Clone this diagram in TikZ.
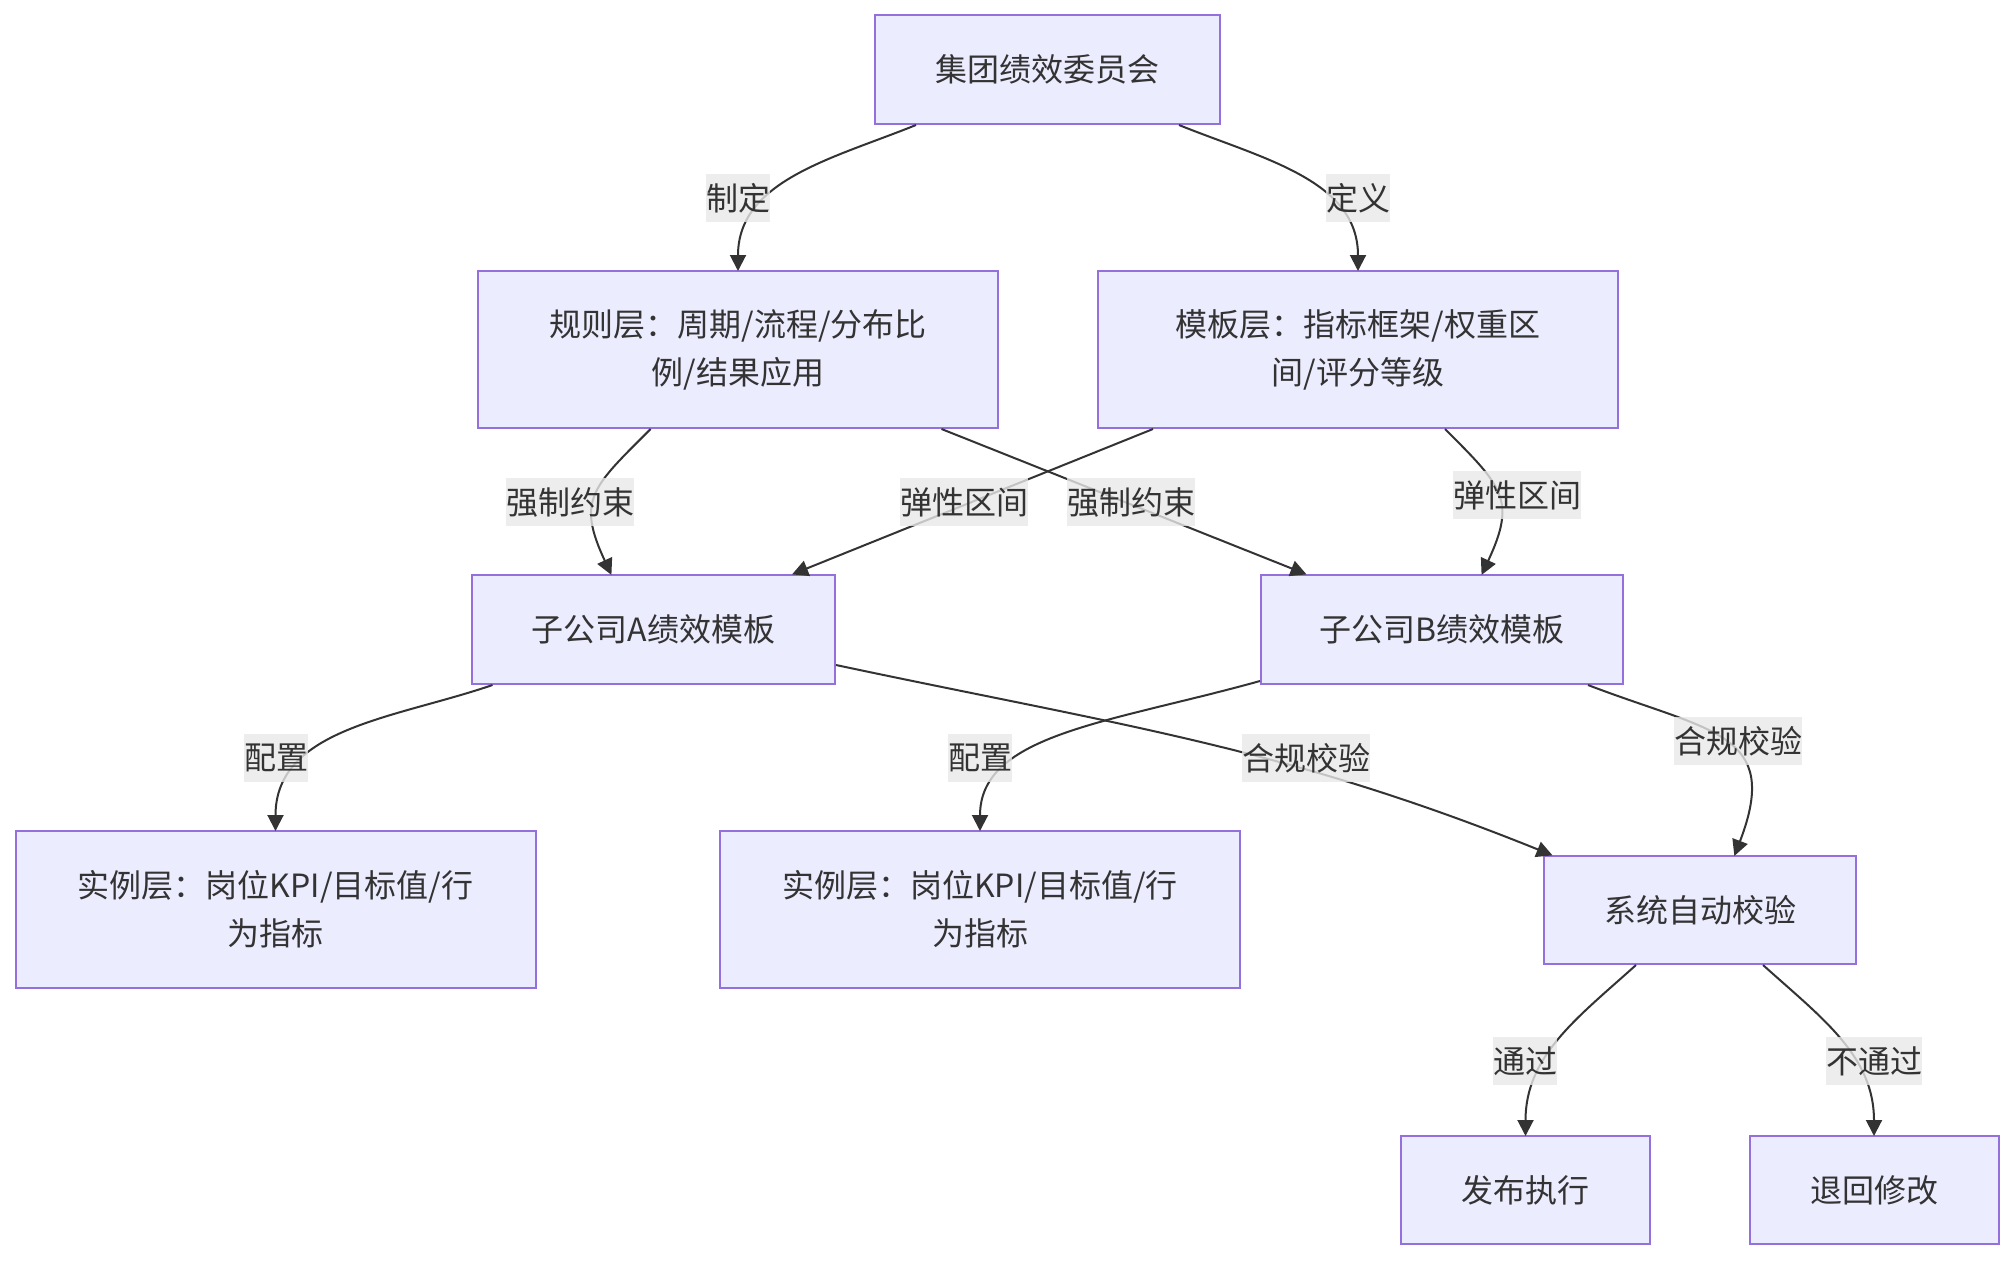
\documentclass[tikz,border=0pt]{standalone}
\usepackage{fontspec}
\setmainfont{Noto Sans CJK SC}
\usetikzlibrary{arrows.meta}
\definecolor{nodefill}{HTML}{ECECFF}
\definecolor{nodeline}{HTML}{9370DB}
\definecolor{txt}{HTML}{333333}
\definecolor{lblbg}{HTML}{E8E8E8}
\begin{document}
\begin{tikzpicture}[x=0.5pt,y=0.5pt,
 box/.style={draw=nodeline, fill=nodefill, line width=1pt, text=txt, align=center,
   font=\fontsize{16pt}{24pt}\selectfont, inner sep=0pt},
 wide/.style={box, minimum width=260pt, minimum height=78.5pt},
 edge/.style={draw=txt, line width=1pt, -{Triangle[length=8pt,width=8pt]}, shorten >=-0.5pt},
 lbl/.style={fill=lblbg, fill opacity=0.8, text opacity=1, text=txt, inner xsep=0pt,
   inner ysep=0pt, minimum height=24pt, font=\fontsize{16pt}{24pt}\selectfont}]
\useasboundingbox (0,0) rectangle (2014,-1260);

\node[box, minimum width=172.5pt, minimum height=54.5pt] (n1) at (1047.5,-69.5) {集团绩效委员会};
\node[wide] (n2) at (738,-349.5) {规则层：周期/流程/分布比\\例/结果应用};
\node[wide] (n3) at (1358,-349.5) {模板层：指标框架/权重区\\间/评分等级};
\node[box, minimum width=181.5pt, minimum height=54.5pt] (n4) at (653.5,-629.5) {子公司A绩效模板};
\node[box, minimum width=181pt, minimum height=54.5pt] (n5) at (1442,-629.5) {子公司B绩效模板};
\node[wide] (n6) at (275.5,-909.5) {实例层：岗位KPI/目标值/行\\为指标};
\node[wide] (n7) at (980,-909.5) {实例层：岗位KPI/目标值/行\\为指标};
\node[box, minimum width=156pt, minimum height=54pt] (n8) at (1700,-910) {系统自动校验};
\node[box, minimum width=124.5pt, minimum height=54pt] (n9) at (1525.5,-1190) {发布执行};
\node[box, minimum width=124.5pt, minimum height=54pt] (n10) at (1874,-1190) {退回修改};

\draw[edge] ([xshift=-65.75pt]n1.south) to[out=-158,in=90] (n2.north);
\draw[edge] ([xshift=65.75pt]n1.south) to[out=-22,in=90] (n3.north);
\draw[edge] ([xshift=-43.7pt]n2.south) to[out=-135,in=115,looseness=1.4] ([xshift=-21.25pt]n4.north);
\draw[edge] ([xshift=101.75pt]n2.south) -- ([xshift=-68.2pt]n5.north);
\draw[edge] ([xshift=-102.5pt]n3.south) -- ([xshift=69.75pt]n4.north);
\draw[edge] ([xshift=43.5pt]n3.south) to[out=-45,in=65,looseness=1.4] ([xshift=20pt]n5.north);
\draw[edge] ([xshift=-80.5pt]n4.south) to[out=-161,in=90] (n6.north);
\draw[edge] ([yshift=-17.75pt]n4.east) to[out=-12,in=158] ([xshift=-74.2pt]n8.north);
\draw[edge] ([yshift=2pt]n5.south west) .. controls +(-75.5pt,-21pt) and +(0pt,48pt) .. (n7.north);
\draw[edge] ([xshift=73pt]n5.south) to[out=-21,in=69,looseness=1.5] ([xshift=17.35pt]n8.north);
\draw[edge] ([xshift=-32pt]n8.south) to[out=-138,in=90] (n9.north);
\draw[edge] ([xshift=31.5pt]n8.south) to[out=-42,in=90] (n10.north);

\node[lbl] (l1) at (738,-198) {制定};
\node[lbl] (l2) at (1358,-198) {定义};
\node[lbl] (l3) at (570,-502) {强制约束};
\node[lbl] (l4) at (964,-502) {弹性区间};
\node[lbl] (l5) at (1131,-502) {强制约束};
\node[lbl] (l6) at (1517,-495) {弹性区间};
\node[lbl] (l7) at (276,-758) {配置};
\node[lbl] (l8) at (1306,-758) {合规校验};
\node[lbl] (l9) at (980,-758) {配置};
\node[lbl] (l10) at (1738,-741) {合规校验};
\node[lbl] (l11) at (1525,-1061) {通过};
\node[lbl] (l12) at (1874,-1061) {不通过};
\end{tikzpicture}
\end{document}
